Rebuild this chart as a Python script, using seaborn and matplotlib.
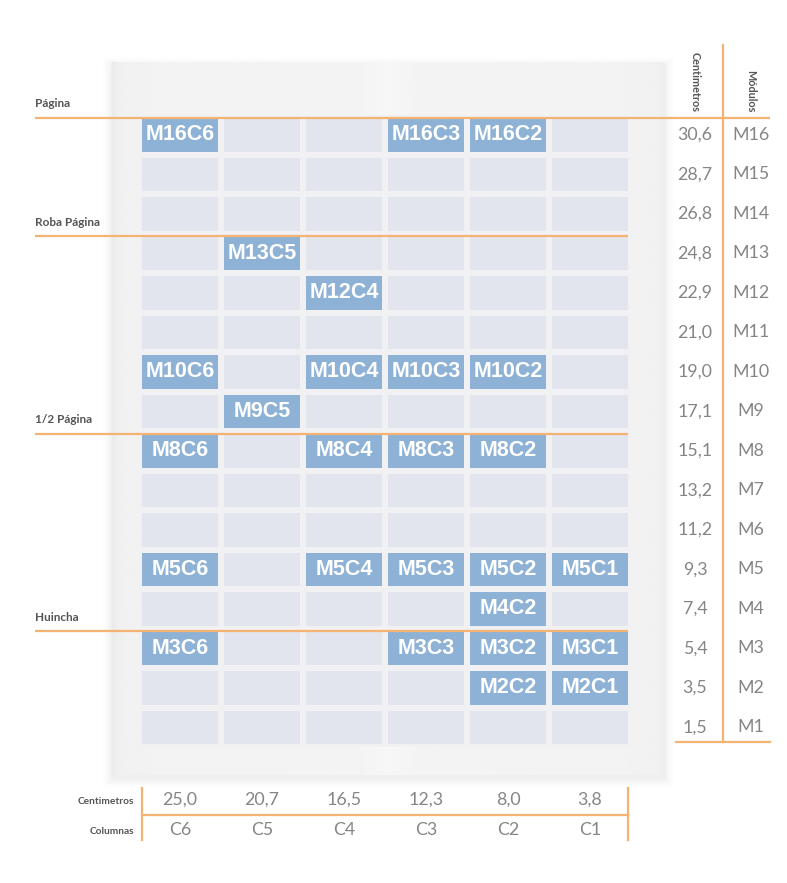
import numpy as np
import matplotlib
matplotlib.use("Agg")
import matplotlib.pyplot as plt
import matplotlib.transforms as mtransforms
from matplotlib.colors import ListedColormap
from matplotlib.patches import Rectangle
import pandas as pd
import seaborn as sns

MODULES = ["M16", "M15", "M14", "M13", "M12", "M11", "M10", "M9",
           "M8", "M7", "M6", "M5", "M4", "M3", "M2", "M1"]
MODULE_CM = [30.6, 28.7, 26.8, 24.8, 22.9, 21.0, 19.0, 17.1,
             15.1, 13.2, 11.2, 9.3, 7.4, 5.4, 3.5, 1.5]
COLUMNS = ["C6", "C5", "C4", "C3", "C2", "C1"]
COLUMN_CM = [25.0, 20.7, 16.5, 12.3, 8.0, 3.8]

# highlighted formats (module -> columns)
SOLD = {
    "M16": ["C6", "C3", "C2"],
    "M13": ["C5"],
    "M12": ["C4"],
    "M10": ["C6", "C4", "C3", "C2"],
    "M9": ["C5"],
    "M8": ["C6", "C4", "C3", "C2"],
    "M5": ["C6", "C4", "C3", "C2", "C1"],
    "M4": ["C2"],
    "M3": ["C6", "C3", "C2", "C1"],
    "M2": ["C2", "C1"],
}

SECTIONS = ["Página", "Roba Página", "1/2 Página", "Huincha"]
SECTION_TOP = ["M16", "M13", "M8", "M3"]

CELL = "#e2e4ee"
SOLD_C = "#8db2d6"
PAPER = "#f1f1f3"
ORANGE = "#f4b273"
GREY_TXT = "#858585"
DARK_TXT = "#555555"

W, H = 787, 883


def fmt_cm(v):
    return f"{v:.1f}".replace(".", ",")


grid = pd.DataFrame(0, index=MODULES, columns=COLUMNS)
labels = pd.DataFrame("", index=MODULES, columns=COLUMNS)
for mod, cols in SOLD.items():
    for col in cols:
        grid.loc[mod, col] = 1
        labels.loc[mod, col] = f"{mod}{col}"

fig = plt.figure(figsize=(W / 100, H / 100), dpi=100)
fig.patch.set_facecolor("white")

# background: the paper sheet
ax_bg = fig.add_axes([0, 0, 1, 1], zorder=0)
ax_bg.set_xlim(0, W)
ax_bg.set_ylim(H, 0)
ax_bg.axis("off")

for i, a in enumerate([0.02, 0.015, 0.012, 0.009, 0.006]):
    pad = 1 + i * 2
    ax_bg.add_patch(Rectangle((112 - pad, 62 - pad + 4), 553 + 2 * pad, 713 + 2 * pad,
                              facecolor="black", edgecolor="none", alpha=a))
profile = np.interp(np.linspace(0, 1, 300),
                    [0, 0.015, 0.08, 0.45, 0.5, 0.55, 0.92, 0.985, 1],
                    [0.925, 0.945, 0.95, 0.955, 0.968, 0.955, 0.95, 0.947, 0.935])
sheet = np.tile(profile, (50, 1))
ax_bg.imshow(sheet, cmap="gray", vmin=0, vmax=1, extent=[112, 665, 775, 62],
             aspect="auto", interpolation="bicubic", zorder=1)

# module grid
ax_hm = fig.add_axes([139 / W, 1 - 747 / H, 492 / W, 632 / H], zorder=1)
sns.heatmap(grid, ax=ax_hm, cmap=ListedColormap([CELL, SOLD_C]), vmin=0, vmax=1,
            cbar=False, linewidths=4.3, linecolor=PAPER,
            annot=labels.values, fmt="",
            annot_kws=dict(color="white", fontweight="bold", fontsize=15.5,
                           family=["Liberation Sans", "DejaVu Sans"]),
            xticklabels=False, yticklabels=False)
ax_hm.set_xticks([])
ax_hm.set_yticks([])
ax_hm.set_xlabel("")
ax_hm.set_ylabel("")
ax_hm.patch.set_alpha(0)

# overlay for rules and labels
ax = fig.add_axes([0, 0, 1, 1], zorder=2)
ax.set_xlim(0, W)
ax.set_ylim(H, 0)
ax.axis("off")
ax.patch.set_alpha(0)

px_rows = mtransforms.blended_transform_factory(ax.transData, ax_hm.transData)
cols_px = mtransforms.blended_transform_factory(ax_hm.transData, ax.transData)

light = dict(family=["Lato", "DejaVu Sans"], fontweight="normal", color=GREY_TXT)
bold = dict(family=["Lato", "DejaVu Sans"], fontweight="bold", color=DARK_TXT)

# section rules on the left
for name, mod in zip(SECTIONS, SECTION_TOP):
    y = MODULES.index(mod) + 0.07
    x_end = 770 if mod == MODULES[0] else 628
    ax.plot([35, x_end], [y, y], color=ORANGE, lw=1.6, transform=px_rows,
            solid_capstyle="butt")
    ax.text(35, y - 0.22, name, transform=px_rows, ha="left", va="bottom",
            fontsize=8.5, **bold)

# right scale: centimetres and modules
ax.plot([723, 723], [45, 742], color=ORANGE, lw=1.6)
ax.plot([676, 770], [742, 742], color=ORANGE, lw=1.6)
ax.text(695, 112, "Centimetros", rotation=-90, ha="center", va="bottom",
        fontsize=7.8, **bold)
ax.text(751, 112, "Módulos", rotation=-90, ha="center", va="bottom",
        fontsize=7.8, **bold)
for i, (mod, cm) in enumerate(zip(MODULES, MODULE_CM)):
    ax.text(695, i + 0.5, fmt_cm(cm), transform=px_rows, ha="center",
            va="center", fontsize=12.8, **light)
    ax.text(751, i + 0.5, mod, transform=px_rows, ha="center",
            va="center", fontsize=12.8, **light)

# bottom scale: centimetres and columns
ax.plot([142, 628], [815, 815], color=ORANGE, lw=1.6)
ax.plot([142, 142], [788, 840], color=ORANGE, lw=1.6)
ax.plot([628, 628], [788, 840], color=ORANGE, lw=1.6)
ax.text(134, 801, "Centimetros", ha="right", va="center", fontsize=7.3, **bold)
ax.text(134, 831, "Columnas", ha="right", va="center", fontsize=7.3, **bold)
for j, (col, cm) in enumerate(zip(COLUMNS, COLUMN_CM)):
    ax.text(j + 0.5, 800, fmt_cm(cm), transform=cols_px, ha="center",
            va="center", fontsize=12.8, **light)
    ax.text(j + 0.5, 830, col, transform=cols_px, ha="center",
            va="center", fontsize=12.8, **light)

fig.savefig("out.png", dpi=100, facecolor="white")
